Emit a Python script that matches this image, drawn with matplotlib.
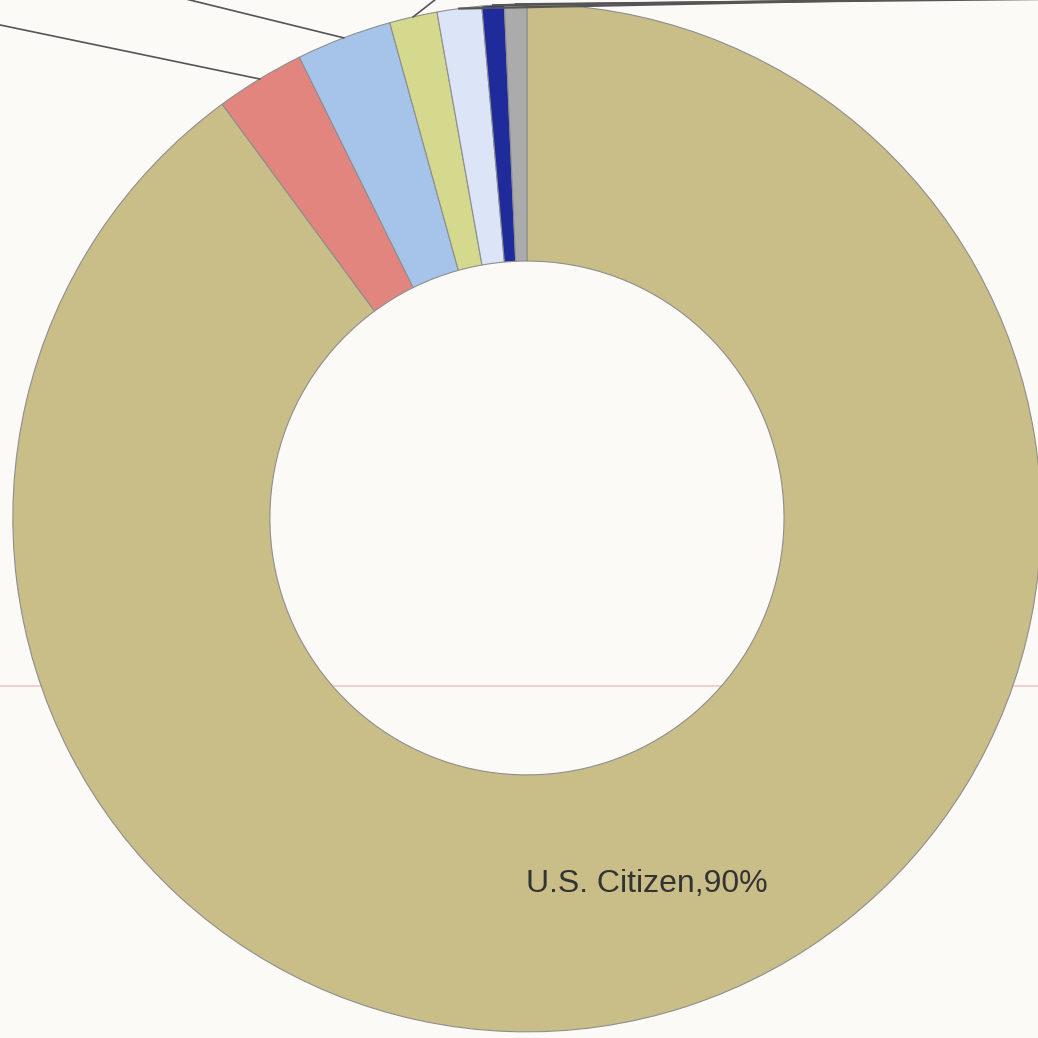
import numpy as np
import matplotlib
matplotlib.use("Agg")
import matplotlib.pyplot as plt

# share of each group, clockwise from 12 o'clock
groups = ["U.S. Citizen", "group 2", "group 3", "group 4", "group 5", "group 6", "group 7"]
shares = [89.9, 2.8, 3.0, 1.5, 1.4, 0.7, 0.7]
colors = ["#C9BD88", "#E2857F", "#A6C4E9", "#D5D98E", "#DCE5F7", "#1F2A9B", "#ABABAB"]
bg = "#FCFAF6"

fig = plt.figure(figsize=(10.38, 10.38), dpi=100, facecolor=bg)
ax = fig.add_axes([0, 0, 1, 1])
ax.set_facecolor(bg)

# thin pink guide line behind the ring
ax.axhline(-0.327, color="#F0C8C8", lw=1.2, zorder=0)

wedges, _ = ax.pie(shares, colors=colors, startangle=90, counterclock=False,
                   radius=1.0, wedgeprops=dict(width=0.5, edgecolor="#8E8E8E", linewidth=0.8))
for w in wedges:
    w.set_zorder(2)

# leader lines towards the labels that sit outside the visible area
ends = {1: (-1.22, 1.0), 2: (-0.733, 1.027), 3: (-0.15, 1.031),
        4: (1.115, 1.017), 5: (1.115, 1.014), 6: (1.115, 1.011)}
for i, (ex, ey) in ends.items():
    w = wedges[i]
    a = np.deg2rad((w.theta1 + w.theta2) / 2)
    lw = 1.2 if i < 4 else 1.6
    ax.plot([np.cos(a), ex], [np.sin(a), ey], color="#555555", lw=lw, zorder=3)

# in-ring label for the big slice
w = wedges[0]
a = np.deg2rad((w.theta1 + w.theta2) / 2)
ax.text(0.75 * np.cos(a), 0.75 * np.sin(a), "U.S. Citizen,%d%%" % round(shares[0]),
        ha="center", va="center", fontsize=23, family="Liberation Sans",
        color="#333333", zorder=4)

ax.set_xlim(-1.025, 0.994)
ax.set_ylim(-1.012, 1.008)
ax.set_aspect("auto")
ax.axis("off")
fig.savefig("out.png", dpi=100, facecolor=bg)
